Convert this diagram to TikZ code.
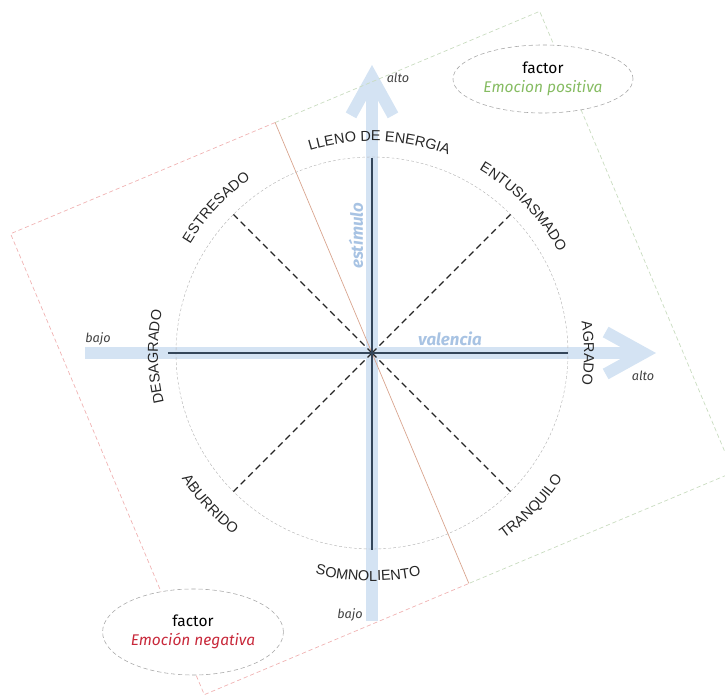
\documentclass[tikz,border=0pt]{standalone}
\usepackage{fontspec}
\setmainfont{Liberation Sans}
\newfontfamily\firafont{Fira Sans}
\usepackage{tikz}
\usetikzlibrary{arrows.meta, positioning, shapes.geometric, decorations.text}
\usepackage{xcolor}

\definecolor{emaxis}{HTML}{D4E3F3}
\definecolor{emaxistext}{HTML}{A8C3E3}
\definecolor{emdark}{HTML}{34465A}
\definecolor{empos}{HTML}{86BC62}
\definecolor{emneg}{HTML}{C8283A}
\definecolor{emposline}{HTML}{C9DCC0}
\definecolor{emnegline}{HTML}{F0B3B3}
\definecolor{emsplit}{HTML}{D9A58F}

\newcommand{\capsfont}{\fontsize{10.3}{12}\selectfont}

\begin{document}
\begin{tikzpicture}[x=0.025cm, y=0.025cm,
  blueaxis/.style={draw=emaxis, line width=8.5pt, -{Straight Barb[length=0.95cm, width=1.05cm]}},
  darkaxis/.style={draw=emdark, line width=1.4pt},
  diag/.style={draw=black!85, line width=0.9pt, dash pattern=on 4.5pt off 3pt},
  quadrant/.style={line width=0.5pt, densely dashed},
  factor/.style={ellipse, draw=black!35, densely dashed, line width=0.4pt, fill=white,
                 inner sep=0pt, align=center, font=\firafont\fontsize{11}{14}\selectfont},
  endlabel/.style={font=\firafont\itshape\fontsize{9}{10}\selectfont, text=black!75},
  axislabel/.style={font=\firafont\bfseries\itshape\fontsize{12}{14}\selectfont, text=emaxistext},
  arclabel/.style={decorate, decoration={text along path, text align=center,
                   text={|\capsfont\color{black!85}|#1}}},
]
  \useasboundingbox (-372,-345) rectangle (353,353);

  % axes in light blue
  \coordinate (o) at (0,0);
  \coordinate (vlow) at (0,-268);
  \coordinate (vhigh) at (0,288);
  \coordinate (hlow) at (-287,0);
  \coordinate (hhigh) at (284,0);
  \draw[blueaxis] (hlow) -- (hhigh);
  \draw[blueaxis] (vlow) -- (vhigh);

  % tilted frame, two halves
  \begin{scope}[rotate=22.8]
    \draw[quadrant, emnegline] (0,250) -- (-287,250) -- (-287,-250) -- (0,-250);
    \draw[quadrant, emposline] (0,250) -- (287,250) -- (287,-250) -- (0,-250);
    \draw[emsplit, line width=0.5pt] (0,250) -- (0,-250);
  \end{scope}

  % circle and diagonals
  \draw[black!30, line width=0.3pt, dash pattern=on 2pt off 1.5pt] (o) circle[radius=196];
  \coordinate (ne) at (45:196);
  \coordinate (nw) at (135:196);
  \coordinate (sw) at (225:196);
  \coordinate (se) at (-45:196);
  \draw[diag] (o) -- (ne);
  \draw[diag] (o) -- (nw);
  \draw[diag] (o) -- (sw);
  \draw[diag] (o) -- (se);

  \draw[darkaxis] (0,195) -- (0,-197);
  \draw[darkaxis] (-204,0) -- (196,0);

  % mood labels round the circle
  \path[arclabel=LLENO DE ENERGIA] (118:212) arc[start angle=118, end angle=58, radius=212];
  \path[arclabel=ENTUSIASMADO] (74:212) arc[start angle=74, end angle=14, radius=212];
  \path[arclabel=ESTRESADO] (167:212) arc[start angle=167, end angle=107, radius=212];
  \path[arclabel=AGRADO] (30:212) arc[start angle=30, end angle=-30, radius=212];
  \path[arclabel=DESAGRADO] (211:214) arc[start angle=211, end angle=151, radius=214];
  \path[arclabel=TRANQUILO] (-74:228) arc[start angle=-74, end angle=-14, radius=228];
  \path[arclabel=SOMNOLIENTO] (-121:228) arc[start angle=-121, end angle=-61, radius=228];
  \path[arclabel=ABURRIDO] (-167:228) arc[start angle=-167, end angle=-107, radius=228];

  \node[axislabel] (val) at (78,14) {valencia};
  \node[axislabel, rotate=90] (est) at (-16,117) {estímulo};

  \node[endlabel] (altov) at (26,275) {alto};
  \node[endlabel] (altoh) at (271,-23) {alto};
  \node[endlabel] (bajoh) at (-274,14) {bajo};
  \node[endlabel] (bajov) at (-22,-262) {bajo};

  % factor ellipses
  \node[factor, minimum width=4.5cm, minimum height=1.7cm] (pos) at (171,274)
    {factor\\\textcolor{empos}{\itshape Emocion positiva}};
  \node[factor, minimum width=4.52cm, minimum height=2.15cm] (neg) at (-179,-279)
    {factor\\\textcolor{emneg}{\itshape Emoción negativa}};
\end{tikzpicture}
\end{document}
